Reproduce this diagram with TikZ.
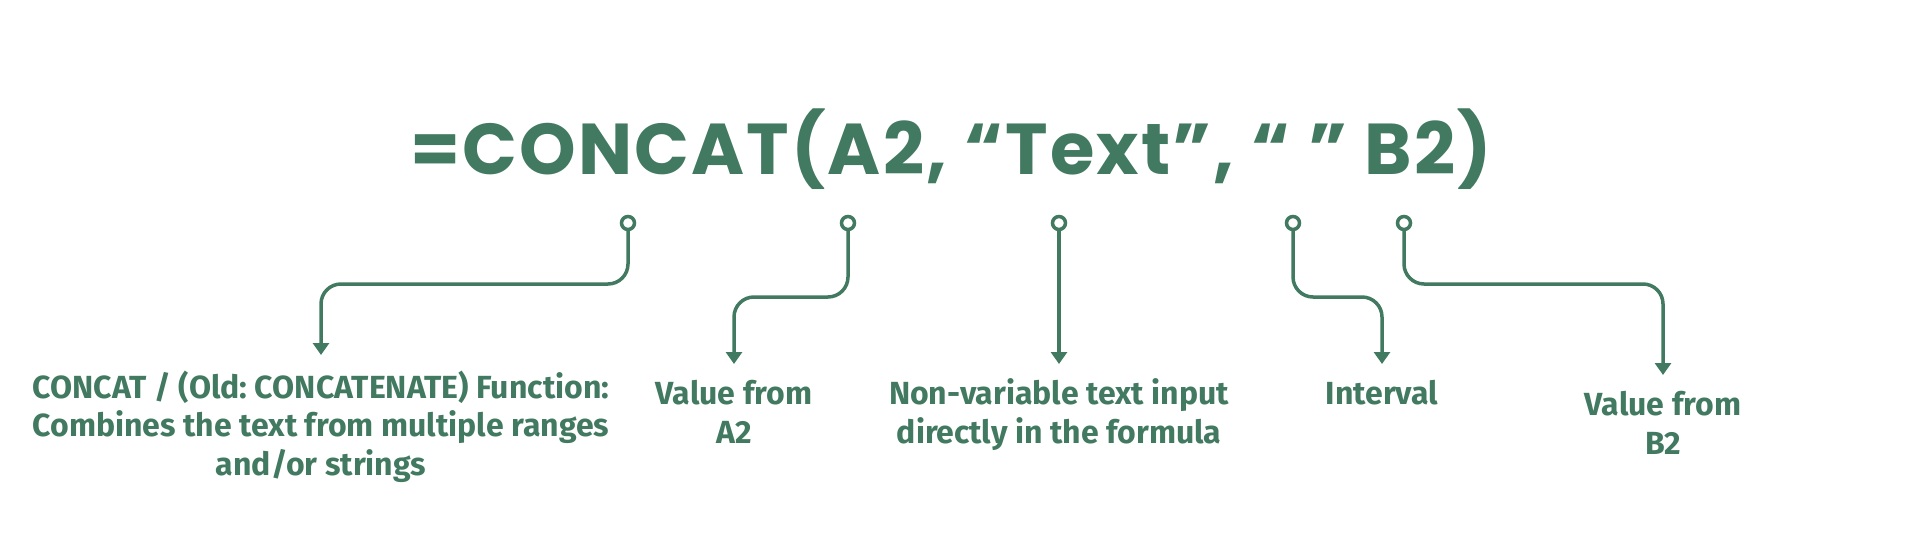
\documentclass[tikz,border=0pt]{standalone}
\usepackage{fontspec}
\setmainfont{Fira Sans}
\newfontfamily\formulafont{Poppins}[LetterSpace=3]
\usetikzlibrary{arrows.meta}
\definecolor{sheetgreen}{RGB}{66,121,97}
\frenchspacing
\tikzset{
  hole/.style={circle,draw=sheetgreen,line width=3.5pt,fill=white,minimum size=13pt,inner sep=0pt},
  lead/.style={draw=sheetgreen,line width=3.5pt,rounded corners=20pt,-{Triangle[width=16pt,length=12pt]}},
  note/.style={text=sheetgreen,font=\fontsize{32}{38.5}\selectfont\bfseries,align=center,anchor=base,inner sep=0pt}
}
\begin{document}
\begin{tikzpicture}[x=1pt,y=-1pt]
  \useasboundingbox (0,0) rectangle (1920,540);
  \node[text=sheetgreen,font=\formulafont\fontsize{72}{72}\selectfont\bfseries,anchor=base,inner sep=0pt] (formula) at (951,175) {=CONCAT(A2, “Text”, “ ” B2)};
  % pins under the formula
  \node[hole] (pa) at (628,223) {};
  \node[hole] (pb) at (848,223) {};
  \node[hole] (pc) at (1059,223) {};
  \node[hole] (pd) at (1293,223) {};
  \node[hole] (pe) at (1404,223) {};
  % arrow tips
  \coordinate (ta) at (321,355);
  \coordinate (tb) at (734,364);
  \coordinate (tc) at (1059,364);
  \coordinate (td) at (1382,364);
  \coordinate (te) at (1663,375);
  % labels (placed by the baseline of their last line)
  \node[note] (la) at (321,475) {CONCAT / (Old: CONCATENATE) Function:\\Combines the text from multiple ranges\\and/or strings};
  \node[note] (lb) at (734,443) {Value from\\A2};
  \node[note] (lc) at (1059,443) {Non-variable text input\\directly in the formula};
  \node[note] (ld) at (1382,404) {Interval};
  \node[note] (le) at (1663,454) {Value from\\B2};
  % connectors
  \draw[lead] (pa) -- (pa |- 0,284) -- (ta |- 0,284) -- (ta);
  \draw[lead] (pb) -- (pb |- 0,297) -- (tb |- 0,297) -- (tb);
  \draw[lead] (pc) -- (tc);
  \draw[lead] (pd) -- (pd |- 0,297) -- (td |- 0,297) -- (td);
  \draw[lead] (pe) -- (pe |- 0,284) -- (te |- 0,284) -- (te);
\end{tikzpicture}
\end{document}
